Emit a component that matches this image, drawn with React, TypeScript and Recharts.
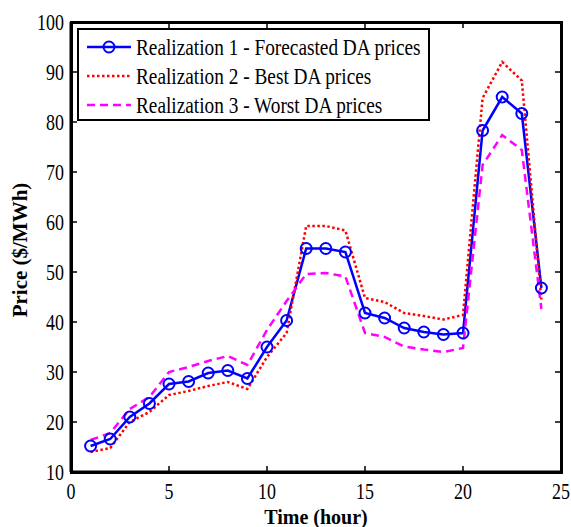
import React from 'react';
import { LineChart, Line, XAxis, YAxis, Legend } from 'recharts';

const hours = [1, 2, 3, 4, 5, 6, 7, 8, 9, 10, 11, 12, 13, 14, 15, 16, 17, 18, 19, 20, 21, 22, 23, 24];
const forecasted = [15.2, 16.6, 21, 23.7, 27.6, 28.1, 29.8, 30.3, 28.7, 35, 40.3, 54.7, 54.7, 54, 41.8, 40.8, 38.8, 38, 37.5, 37.8, 78.3, 85, 81.7, 46.8];
const best = [14, 14.8, 20, 22, 25.4, 26.2, 27.2, 28, 26.6, 33, 37.8, 59.2, 59.2, 58.3, 44.8, 44, 41.8, 41.2, 40.5, 41.4, 84.8, 92, 88.3, 44.5];
const worst = [16.4, 17.8, 22.6, 25, 30, 31, 32.2, 33.2, 31.4, 38.4, 44.2, 49.6, 49.8, 49.1, 37.8, 37, 35.1, 34.5, 34, 34.8, 71.4, 77.4, 74.4, 42.6];
const xTicks = [0, 5, 10, 15, 20, 25];
const yTicks = [10, 20, 30, 40, 50, 60, 70, 80, 90, 100];
const seriesNames = [
  'Realization 1 - Forecasted DA prices',
  'Realization 2 - Best DA prices',
  'Realization 3 - Worst DA prices',
];

const data = hours.map((h, i) => ({ hour: h, r1: forecasted[i], r2: best[i], r3: worst[i] }));

// layout constants
const CHART_W = 571;
const CHART_H = 527;
const M_TOP = 22;
const M_RIGHT = 10;
const Y_AXIS_W = 71;
const X_AXIS_H = 55;
const PLOT_LEFT = Y_AXIS_W;
const PLOT_RIGHT = CHART_W - M_RIGHT;
const PLOT_TOP = M_TOP;
const PLOT_BOTTOM = CHART_H - X_AXIS_H;
const TICK_LEN = 6;

const SERIF = '"Liberation Serif", "Times New Roman", serif';
const BLUE = '#0000ff';
const RED = '#ff0000';
const MAGENTA = '#ff00ff';

// bottom tick label + mirrored inward tick on the top edge
const XTick = (props: any) => {
  const { x, y, payload } = props;
  return (
    <g>
      <line x1={x} x2={x} y1={PLOT_TOP} y2={PLOT_TOP + TICK_LEN} stroke="#000" strokeWidth={1.5} />
      <text
        transform={`translate(${x} ${y + 23}) scale(0.78 1)`}
        textAnchor="middle"
        fontFamily={SERIF}
        fontSize={23}
        fill="#000"
      >
        {payload.value}
      </text>
    </g>
  );
};

// left tick label + mirrored inward tick on the right edge
const YTick = (props: any) => {
  const { x, y, payload } = props;
  return (
    <g>
      <line x1={PLOT_RIGHT} x2={PLOT_RIGHT - TICK_LEN} y1={y} y2={y} stroke="#000" strokeWidth={1.5} />
      <text
        transform={`translate(${x} ${y + 8}) scale(0.78 1)`}
        textAnchor="end"
        fontFamily={SERIF}
        fontSize={23}
        fill="#000"
      >
        {payload.value}
      </text>
    </g>
  );
};

const LegendBox = () => {
  const rows = [
    { y: 19, color: BLUE, dash: undefined, marker: true },
    { y: 48, color: RED, dash: '2.5 2.5', marker: false },
    { y: 77, color: MAGENTA, dash: '8 5', marker: false },
  ];
  return (
    <svg width={354} height={94} style={{ display: 'block' }}>
      <rect x={1} y={1} width={351} height={91} fill="#fff" stroke="#000" strokeWidth={2} />
      {rows.map((r, i) => (
        <g key={i}>
          <line x1={10} x2={54} y1={r.y} y2={r.y} stroke={r.color} strokeWidth={2.5} strokeDasharray={r.dash} />
          {r.marker && <circle cx={32} cy={r.y} r={5.5} fill="none" stroke={r.color} strokeWidth={2} />}
          <text
            transform={`translate(59 ${r.y + 8}) scale(0.84 1)`}
            fontFamily={SERIF}
            fontSize={23}
            fill="#000"
          >
            {seriesNames[i]}
          </text>
        </g>
      ))}
    </svg>
  );
};

const YTitle = (props: any) => {
  const vb = props.viewBox || { x: 0, y: PLOT_TOP, width: Y_AXIS_W, height: PLOT_BOTTOM - PLOT_TOP };
  const cx = vb.x + 27;
  const cy = vb.y + vb.height / 2 + 3;
  return (
    <text
      transform={`translate(${cx} ${cy}) rotate(-90)`}
      textAnchor="middle"
      fontFamily={SERIF}
      fontWeight="bold"
      fontSize={21}
      fill="#000"
    >
      Price ($/MWh)
    </text>
  );
};

const XTitle = (props: any) => {
  const vb = props.viewBox || { x: PLOT_LEFT, y: PLOT_BOTTOM, width: PLOT_RIGHT - PLOT_LEFT, height: X_AXIS_H };
  return (
    <text
      x={vb.x + vb.width / 2}
      y={vb.y + 52}
      textAnchor="middle"
      fontFamily={SERIF}
      fontWeight="bold"
      fontSize={20}
      fill="#000"
    >
      Time (hour)
    </text>
  );
};

export default function App() {
  return (
    <div style={{ position: 'absolute', left: 0, top: 0, width: CHART_W, height: CHART_H, background: '#fff' }}>
      <LineChart width={CHART_W} height={CHART_H} data={data} margin={{ top: M_TOP, right: M_RIGHT, left: 0, bottom: 0 }}>
        <XAxis
          dataKey="hour"
          type="number"
          domain={[0, 25]}
          ticks={xTicks}
          height={X_AXIS_H}
          axisLine={{ stroke: '#000', strokeWidth: 3 }}
          tickLine={{ stroke: '#000', strokeWidth: 1.5 }}
          tickSize={-TICK_LEN}
          tickMargin={10}
          tick={<XTick />}
          interval={0}
          label={<XTitle />}
        />
        <YAxis
          type="number"
          domain={[10, 100]}
          ticks={yTicks}
          width={Y_AXIS_W}
          axisLine={{ stroke: '#000', strokeWidth: 3 }}
          tickLine={{ stroke: '#000', strokeWidth: 1.5 }}
          tickSize={-TICK_LEN}
          tickMargin={13}
          tick={<YTick />}
          interval={0}
          label={<YTitle />}
        />
        <Line
          dataKey="r1"
          stroke={BLUE}
          strokeWidth={2.5}
          dot={{ r: 5.5, fill: 'none', stroke: BLUE, strokeWidth: 2 }}
          isAnimationActive={false}
        />
        <Line
          dataKey="r2"
          stroke={RED}
          strokeWidth={2.5}
          strokeDasharray="2.5 2.5"
          dot={false}
          isAnimationActive={false}
        />
        <Line
          dataKey="r3"
          stroke={MAGENTA}
          strokeWidth={2.5}
          strokeDasharray="8 5"
          dot={false}
          isAnimationActive={false}
        />
        <Legend
          layout="horizontal"
          verticalAlign="middle"
          align="center"
          content={<LegendBox />}
          wrapperStyle={{ position: 'absolute', left: 77, top: 28, width: 354, height: 94 }}
        />
      </LineChart>
      {/* axes box (frame) drawn over the plot area */}
      <div
        style={{
          position: 'absolute',
          left: PLOT_LEFT - 1.5,
          top: PLOT_TOP - 1.5,
          width: PLOT_RIGHT - PLOT_LEFT + 3,
          height: PLOT_BOTTOM - PLOT_TOP + 3,
          border: '3px solid #000',
          boxSizing: 'border-box',
          pointerEvents: 'none',
        }}
      />
    </div>
  );
}
